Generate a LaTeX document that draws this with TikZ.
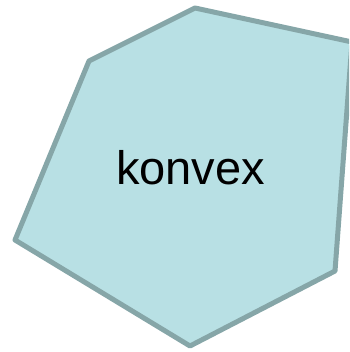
\documentclass[tikz,border=0pt]{standalone}
\usepackage{fontspec}
\setmainfont{Liberation Sans}
\definecolor{hullfill}{HTML}{B8E0E4}
\definecolor{hullline}{HTML}{86A6A8}
\begin{document}
\begin{tikzpicture}[x=1pt, y=-1pt, hull/.style={draw=hullline, fill=hullfill, line width=5pt, line join=round}]
        \useasboundingbox (0,0) rectangle (349,352);
        \clip (0,0) rectangle (349,352);
        \coordinate (p1) at (195,8);
        \coordinate (p2) at (352,42);
        \coordinate (p3) at (335,271);
        \coordinate (p4) at (190,346);
        \coordinate (p5) at (15,240);
        \coordinate (p6) at (89,61);

        \draw[hull] (p1)--(p2)--(p3)--(p4)--(p5)--(p6)--cycle;
        \node[anchor=base, font=\fontsize{47}{47}\selectfont] (label) at (190.5,185) {konvex};
\end{tikzpicture}
\end{document}
